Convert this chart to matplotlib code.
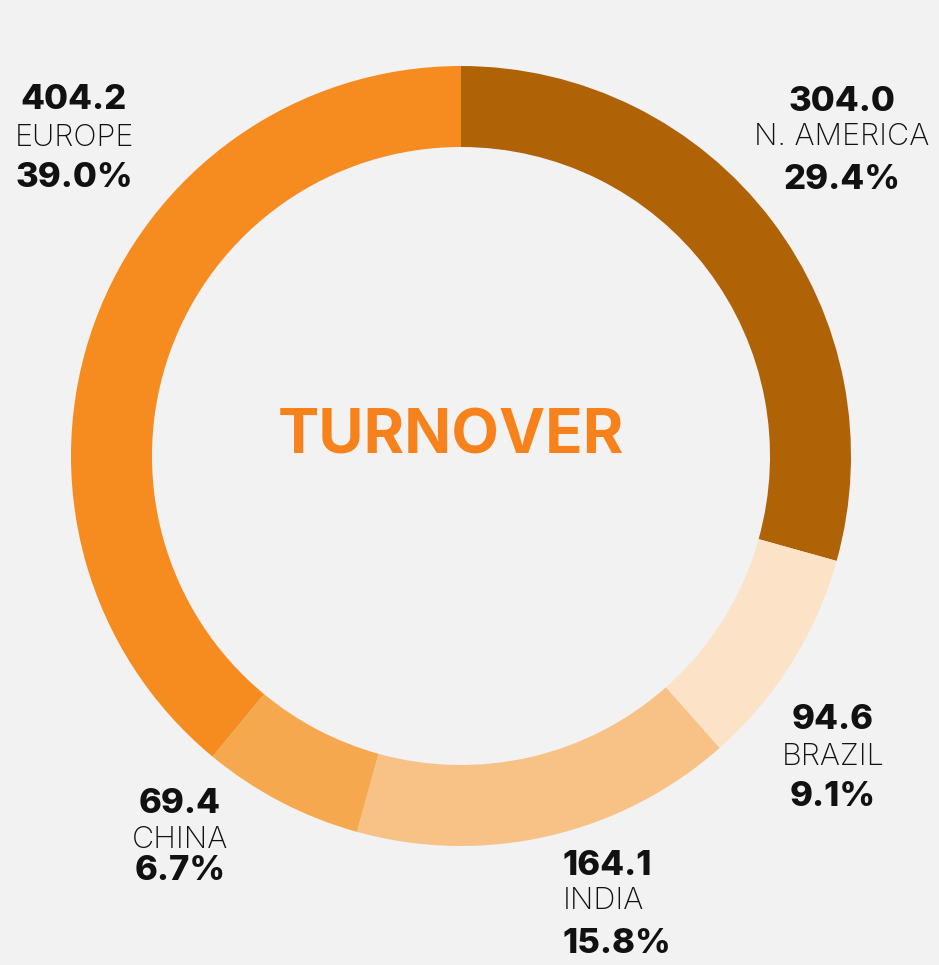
import matplotlib.pyplot as plt

# data (clockwise from 12 o'clock)
regions = ['N. AMERICA', 'BRAZIL', 'INDIA', 'CHINA', 'EUROPE']
values = [304.0, 94.6, 164.1, 69.4, 404.2]
shares = ['29.4%', '9.1%', '15.8%', '6.7%', '39.0%']
colors = ['#B06306', '#FCE3C8', '#F8C287', '#F6A84F', '#F68B1F']

BG = '#F2F2F2'
W, H = 939, 965

fig = plt.figure(figsize=(W / 100, H / 100), dpi=100, facecolor=BG)
ax = fig.add_axes([0, 0, 1, 1])
ax.set_facecolor(BG)

cx, cy, r = 461, H - 456, 390
ax.pie(values, colors=colors, startangle=90, counterclock=False,
       center=(cx, cy), radius=r, frame=False,
       wedgeprops=dict(width=81, linewidth=0))
ax.set_xlim(0, W)
ax.set_ylim(0, H)
ax.axis('off')

ax.text(451, H - 437, 'TURNOVER', ha='center', va='center', color='#F7821B',
        fontsize=44.5, fontweight='bold', family='Inter')

# label positions in pixels (x, y of value line, y of name, y of share), alignment
label_pos = {
    'EUROPE': (74, 100, 138, 178, 'center'),
    'N. AMERICA': (842, 102, 137, 180, 'center'),
    'BRAZIL': (833, 720, 757, 797, 'center'),
    'INDIA': (563, 866, 901, 944, 'left'),
    'CHINA': (180, 804, 840, 871, 'center'),
}

for name, val, pct in zip(regions, values, shares):
    x, y1, y2, y3, ha = label_pos[name]
    ax.text(x, H - y1, f'{val:.1f}', ha=ha, va='center', fontsize=25,
            fontweight='heavy', family='Inter', color='#111111')
    ax.text(x, H - y2, name, ha=ha, va='center', fontsize=22,
            fontweight='light', family='Inter', color='#111111')
    ax.text(x, H - y3, pct, ha=ha, va='center', fontsize=25,
            fontweight='heavy', family='Inter', color='#111111')

fig.savefig('out.png', dpi=100, facecolor=BG)
